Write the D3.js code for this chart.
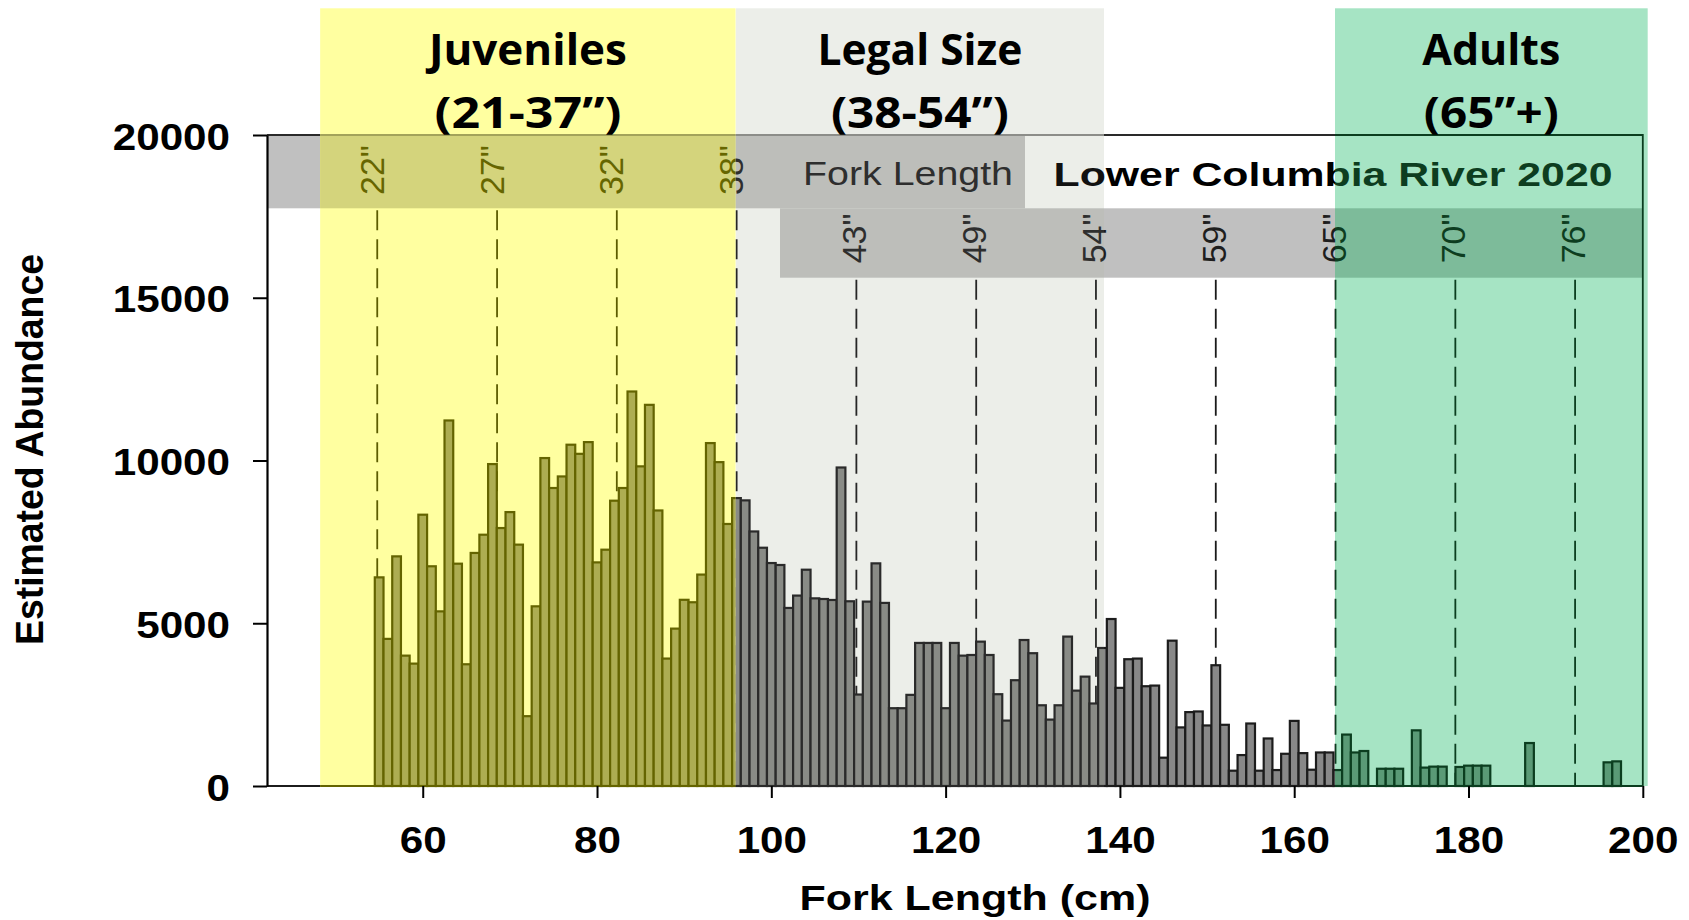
<!DOCTYPE html>
<html>
<head>
<meta charset="utf-8">
<script src="https://cdnjs.cloudflare.com/ajax/libs/d3/7.8.5/d3.min.js"></script>
<style>
  body { margin: 0; background: #fff; }
</style>
</head>
<body>
<svg id="chart" width="1689" height="920"></svg>
<script>
// 1 cm bins, Lower Columbia River 2020
var forkCm = [55,56,57,58,59,60,61,62,63,64,65,66,67,68,69,70,71,72,73,74,75,76,77,78,79,
  80,81,82,83,84,85,86,87,88,89,90,91,92,93,94,95,96,97,98,99,100,101,102,103,104,105,106,107,108,109,
  110,111,112,113,114,115,116,117,118,119,120,121,122,123,124,125,126,127,128,129,130,131,132,133,134,135,
  136,137,138,139,140,141,142,143,144,145,146,147,148,149,150,151,152,153,154,155,156,157,158,159,160,161,
  162,163,164,165,166,167,168,169,170,171,172,173,174,175,176,177,178,179,180,181,182,183,184,185,186,187,
  188,189,190,191,192,193,194,195,196,197];
var abundance = [6410,4520,7055,4005,3760,8335,6750,5365,11230,6830,3740,7160,7720,9890,7925,8415,7415,2145,5520,10075,9155,9510,10485,10205,10565,
  6870,7260,8765,9155,12120,9820,11710,8465,3915,4835,5720,5645,6495,10535,9950,8050,8845,8775,7820,7320,6850,6790,5470,5850,6645,5765,5745,5715,9785,5675,
  2810,5665,6840,5625,2390,2390,2800,4395,4395,4395,2390,4395,4005,4025,4435,4025,2820,2010,3250,4485,4080,2480,2040,2480,4590,2930,
  3360,2535,4240,5130,3015,3895,3915,3065,3085,870,4465,1800,2270,2290,1860,3710,1880,470,950,1920,470,1460,490,990,2000,1010,
  500,1030,1030,490,1580,1030,1075,0,530,530,530,0,1710,565,595,595,0,585,625,625,625,0,0,0,0,1320,
  0,0,0,0,0,0,0,0,727,757];

var guideCm = [54.78, 68.53, 82.27, 96.02, 109.76, 123.51, 137.25, 151.0, 164.74, 178.49, 192.23];
var guideLabels = ['22"','27"','32"','38"','43"','49"','54"','59"','65"','70"','76"'];
var guideRow = [1,1,1,1,2,2,2,2,2,2,2];

var xTicks = [60, 80, 100, 120, 140, 160, 180, 200];
var yTicks = [0, 5000, 10000, 15000, 20000];

var bandCm = [[48.22, 95.92], [95.92, 138.18], [164.68, 200.56]];
var bandTitles = [["Juveniles", "(21-37\u201D)"], ["Legal Size", "(38-54\u201D)"], ["Adults", "(65\u201D+)"]];

var W = 1689, H = 920;
var arial = "'Liberation Sans', Arial, sans-serif";

var x = d3.scaleLinear().domain([42.13, 200]).range([267, 1642.8]);
var y = d3.scaleLinear().domain([0, 20000]).range([786, 135]);

var svg = d3.select("#chart");
var defs = svg.append("defs");

var plainPal = {band: null, strip: "#c0c0c0", bar: "#888888", barStroke: "#1c1c1c", dash: "#1a1a1a", text: "#1e1e1e", title: "#000", frame: "#2a2a2a"};
var yellowPal = {band: "#ffffa0", strip: "#d4d47c", bar: "#adad52", barStroke: "#646400", dash: "#5c5c00", text: "#666600", title: "#000", frame: "#a3a35a"};
var legalPal = {band: "#eceee9", strip: "#bdbeba", bar: "#898b86", barStroke: "#2a2a2a", dash: "#262626", text: "#2e2e2e", title: "#111", frame: "#8c8d89"};
var greenPal = {band: "#a6e4c4", strip: "#7dbb9a", bar: "#5a9a76", barStroke: "#0b3d1f", dash: "#0b3d1f", text: "#0d3d20", title: "#0d3d20", frame: "#0b3d1f"};

var regions = [
  {id: "r0", x0: 0, x1: x(bandCm[0][0]), pal: plainPal},
  {id: "r1", x0: x(bandCm[0][0]), x1: x(bandCm[0][1]), pal: yellowPal, band: bandCm[0]},
  {id: "r2", x0: x(bandCm[1][0]), x1: x(bandCm[1][1]), pal: legalPal, band: bandCm[1]},
  {id: "r3", x0: x(bandCm[1][1]), x1: x(bandCm[2][0]), pal: plainPal},
  {id: "r4", x0: x(bandCm[2][0]), x1: W, pal: greenPal, band: bandCm[2]}
];

var bins = forkCm.map(function(c, i) { return {cm: c, n: abundance[i]}; })
  .filter(function(d) { return d.n > 0; });

var row1 = {x0: 267, x1: 1025, y0: 135, y1: 208.3};
var row2 = {x0: 780, x1: 1642.8, y0: 208.3, y1: 277.7};

function drawLayer(g, pal, band) {
  if (band) {
    g.append("rect")
      .attr("x", x(band[0])).attr("y", 8.3)
      .attr("width", x(band[1]) - x(band[0])).attr("height", 786 - 8.3)
      .attr("fill", pal.band);
  }
  [row1, row2].forEach(function(r) {
    g.append("rect")
      .attr("x", r.x0).attr("y", r.y0)
      .attr("width", r.x1 - r.x0).attr("height", r.y1 - r.y0)
      .attr("fill", pal.strip);
  });

  g.selectAll("line.guide").data(guideCm).enter().append("line")
    .attr("class", "guide")
    .attr("x1", function(d) { return x(d); })
    .attr("x2", function(d) { return x(d); })
    .attr("y1", function(d, i) { return guideRow[i] == 1 ? row1.y1 + 2 : row2.y1 + 2; })
    .attr("y2", y(0))
    .attr("stroke", pal.dash)
    .attr("stroke-width", 1.8)
    .attr("stroke-dasharray", "20,9");

  g.selectAll("rect.bar").data(bins).enter().append("rect")
    .attr("class", "bar")
    .attr("x", function(d) { return x(d.cm - 0.5); })
    .attr("width", function(d) { return x(d.cm + 0.5) - x(d.cm - 0.5); })
    .attr("y", function(d) { return y(d.n); })
    .attr("height", function(d) { return y(0) - y(d.n); })
    .attr("fill", pal.bar)
    .attr("stroke", pal.barStroke)
    .attr("stroke-width", 2.2);

  g.append("path")
    .attr("d", "M267," + y(20000) + "H" + x(200) + "V" + y(0))
    .attr("fill", "none")
    .attr("stroke", pal.frame)
    .attr("stroke-width", 1.8);
  g.append("line")
    .attr("x1", 267).attr("x2", x(200))
    .attr("y1", y(0)).attr("y2", y(0))
    .attr("stroke", pal.barStroke)
    .attr("stroke-width", 2.2);

  g.selectAll("text.inch").data(guideCm).enter().append("text")
    .attr("class", "inch")
    .attr("transform", function(d, i) {
      var bx = guideRow[i] == 1 ? x(d) + 6.5 : x(d) + 10;
      var by = guideRow[i] == 1 ? 195 : 263.3;
      return "translate(" + bx + "," + by + ") rotate(-90)";
    })
    .attr("font-family", arial)
    .attr("font-size", 34)
    .attr("fill", pal.text)
    .text(function(d, i) { return guideLabels[i]; });

  g.append("text")
    .attr("x", 803).attr("y", 185)
    .attr("font-family", arial).attr("font-size", 32.6)
    .attr("fill", pal.text)
    .attr("textLength", 210).attr("lengthAdjust", "spacingAndGlyphs")
    .text("Fork Length");

  g.append("text")
    .attr("x", 1053.5).attr("y", 185.7)
    .attr("font-family", arial).attr("font-size", 32.6).attr("font-weight", "bold")
    .attr("fill", pal.title)
    .attr("textLength", 559).attr("lengthAdjust", "spacingAndGlyphs")
    .text("Lower Columbia River 2020");
}

regions.forEach(function(r) {
  defs.append("clipPath").attr("id", "clip-" + r.id)
    .attr("clipPathUnits", "userSpaceOnUse")
    .append("rect").attr("x", r.x0).attr("y", 0)
    .attr("width", r.x1 - r.x0).attr("height", H);
  var g = svg.append("g").attr("clip-path", "url(#clip-" + r.id + ")");
  drawLayer(g, r.pal, r.band);
});

// y axis
var yAxis = svg.append("g")
  .attr("transform", "translate(267,0)")
  .call(d3.axisLeft(y).tickValues(yTicks).tickSize(14).tickSizeOuter(0).tickFormat(d3.format("d")));
yAxis.select(".domain").attr("stroke", "#000").attr("stroke-width", 2.2);
yAxis.selectAll(".tick line").attr("stroke", "#000").attr("stroke-width", 2);
yAxis.selectAll(".tick text")
  .attr("font-family", arial).attr("font-size", 37).attr("font-weight", "bold")
  .attr("fill", "#000")
  .attr("x", -37 / 1.14).attr("dy", "0.38em")
  .attr("transform", "scale(1.14,1)");

// x axis
var xAxis = svg.append("g")
  .attr("transform", "translate(0," + y(0) + ")")
  .call(d3.axisBottom(x).tickValues(xTicks).tickSize(12).tickSizeOuter(0));
xAxis.select(".domain").remove();
xAxis.selectAll(".tick line").attr("stroke", "#000").attr("stroke-width", 2);
xAxis.selectAll(".tick text")
  .attr("font-family", arial).attr("font-size", 37).attr("font-weight", "bold")
  .attr("fill", "#000")
  .attr("y", 67).attr("dy", "0")
  .attr("x", 0);
// widen the labels like the original without moving them off the tick
xAxis.selectAll(".tick text")
  .attr("textLength", function() { return this.getComputedTextLength() * 1.14; })
  .attr("lengthAdjust", "spacingAndGlyphs");

svg.append("text")
  .attr("x", 975).attr("y", 910)
  .attr("text-anchor", "middle")
  .attr("font-family", arial).attr("font-size", 35).attr("font-weight", "bold")
  .attr("textLength", 351).attr("lengthAdjust", "spacingAndGlyphs")
  .text("Fork Length (cm)");

svg.append("text")
  .attr("transform", "translate(43.3,449.5) rotate(-90)")
  .attr("text-anchor", "middle")
  .attr("font-family", arial).attr("font-size", 39).attr("font-weight", "bold")
  .attr("textLength", 391).attr("lengthAdjust", "spacingAndGlyphs")
  .text("Estimated Abundance");

// band titles
var titleWidths = [[198, 187], [205, 178], [138, 135]];
bandTitles.forEach(function(t, i) {
  var cx = (x(bandCm[i][0]) + x(bandCm[i][1])) / 2;
  [65, 128].forEach(function(by, j) {
    svg.append("text")
      .attr("x", cx).attr("y", by)
      .attr("text-anchor", "middle")
      .attr("font-family", "'Open Sans', Lato, sans-serif")
      .attr("font-size", 43).attr("font-weight", "bold")
      .attr("fill", "#000")
      .attr("textLength", titleWidths[i][j]).attr("lengthAdjust", "spacingAndGlyphs")
      .text(t[j]);
  });
});
</script>
</body>
</html>
